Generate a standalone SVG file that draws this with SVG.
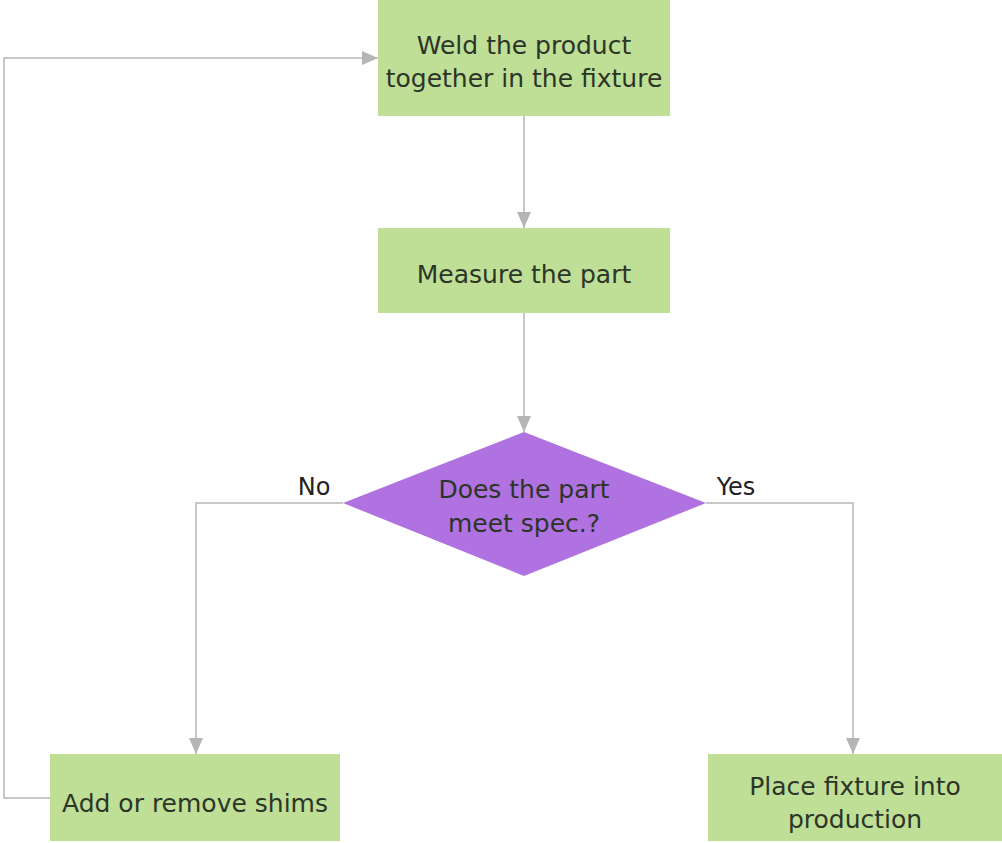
<svg xmlns="http://www.w3.org/2000/svg" width="1002" height="843" viewBox="0 0 1002 843">
<style>
.box{fill:#bfdf97;}
.dia{fill:#b072e0;}
.t{font-family:"DejaVu Sans",Verdana,sans-serif;font-size:25px;fill:#2c3528;text-anchor:middle;}
.c{fill:none;stroke:#b5b5b5;stroke-width:1.5;}
.lbl{font-family:"DejaVu Sans",Verdana,sans-serif;font-size:24px;fill:#222;}
</style>
<defs>
<marker id="ah" viewBox="0 0 16 14" refX="16" refY="7" markerWidth="16" markerHeight="14" markerUnits="userSpaceOnUse" orient="auto">
<path d="M0,0 L16,7 L0,14 Z" fill="#b5b5b5"/>
</marker>
</defs>
<rect width="1002" height="843" fill="#ffffff"/>
<g id="connectors">
<path class="c" d="M524,116 V228" marker-end="url(#ah)"/>
<path class="c" d="M524,313 V432" marker-end="url(#ah)"/>
<path class="c" d="M343,503 H196 V754" marker-end="url(#ah)"/>
<path class="c" d="M706,503 H853 V754" marker-end="url(#ah)"/>
<path class="c" d="M50,798 H4 V58 H378" marker-end="url(#ah)"/>
<text class="lbl" x="314" y="495" text-anchor="middle">No</text>
<text class="lbl" x="736" y="495" text-anchor="middle">Yes</text>
</g>
<g id="weld">
<rect class="box" x="378" y="0" width="292" height="116"/>
<text class="t" x="524" y="54">Weld the product</text>
<text class="t" x="524" y="87">together in the fixture</text>
</g>
<g id="measure">
<rect class="box" x="378" y="228" width="292" height="85"/>
<text class="t" x="524" y="283">Measure the part</text>
</g>
<g id="decision">
<polygon class="dia" points="524,432 706,503 524,576 343,503"/>
<text class="t" x="524" y="498">Does the part</text>
<text class="t" x="524" y="532">meet spec.?</text>
</g>
<g id="shims">
<rect class="box" x="50" y="754" width="290" height="87"/>
<text class="t" x="195" y="812">Add or remove shims</text>
</g>
<g id="place">
<rect class="box" x="708" y="754" width="294" height="87"/>
<text class="t" x="855" y="795">Place fixture into</text>
<text class="t" x="855" y="828">production</text>
</g>
</svg>
